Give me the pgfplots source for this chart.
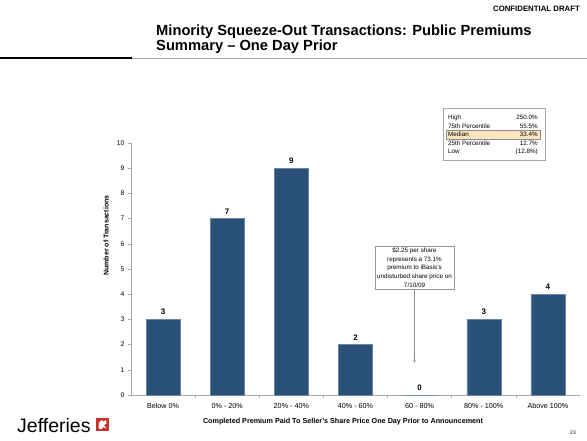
\documentclass[border=0pt]{standalone}
\usepackage{pgfplots}
\pgfplotsset{compat=1.18}
\usetikzlibrary{arrows.meta}
\usepackage{fontspec}
\setmainfont{Liberation Sans}
\definecolor{barblue}{HTML}{2A5279}
\definecolor{axisgray}{HTML}{A8A8A8}
\definecolor{medfill}{HTML}{FCE4BE}
\definecolor{jred}{HTML}{C8302C}
\begin{document}
\begin{tikzpicture}
\path[use as bounding box] (0pt,0pt) rectangle (587pt,440pt);
\fill[white] (0pt,0pt) rectangle (587pt,440pt);
% header
\node[anchor=base east, inner sep=0, font=\bfseries\fontsize{7.8}{9}\selectfont] at (580pt,428pt) {CONFIDENTIAL DRAFT};
\node[anchor=base west, inner sep=0, font=\bfseries\fontsize{14.7}{16}\selectfont] at (156pt,404.5pt) {Minority Squeeze-Out Transactions: Public Premiums};
\node[anchor=base west, inner sep=0, font=\bfseries\fontsize{14.7}{16}\selectfont] at (156pt,389.5pt) {Summary – One Day Prior};
\draw[line width=2pt, black] (0pt,381.7pt) -- (132pt,381.7pt);
\draw[line width=0.6pt, black!35] (132pt,381.7pt) -- (587pt,381.7pt);
% stats box
\draw[black!35, line width=0.5pt] (443pt,280pt) rectangle (545pt,332pt);
\fill[medfill] (446pt,301pt) rectangle (540pt,310pt);
\draw[black!45, line width=0.4pt] (446pt,301pt) rectangle (540pt,310pt);
\begin{scope}[every node/.style={inner sep=0, font=\fontsize{6.3}{7}\selectfont}]
\node[anchor=base west] at (448pt,320.5pt) {High};
\node[anchor=base east] at (538pt,320.5pt) {250.0\%};
\node[anchor=base west] at (448pt,311.9pt) {75th Percentile};
\node[anchor=base east] at (538pt,311.9pt) {55.5\%};
\node[anchor=base west] at (448pt,303.3pt) {Median};
\node[anchor=base east] at (538pt,303.3pt) {33.4\%};
\node[anchor=base west] at (448pt,294.7pt) {25th Percentile};
\node[anchor=base east] at (538pt,294.7pt) {12.7\%};
\node[anchor=base west] at (448pt,286.1pt) {Low};
\node[anchor=base east] at (538pt,286.1pt) {(12.8\%)};
\end{scope}
% axis
\begin{axis}[
  at={(131pt,45pt)}, anchor=south west,
  scale only axis, width=449pt, height=252pt,
  xmin=-0.5, xmax=6.5, ymin=0, ymax=10,
  axis x line*=bottom, axis y line*=left,
  axis line style={axisgray, line width=0.6pt},
  tick style={axisgray, line width=0.5pt},
  tick align=outside,
  major tick length=3pt, minor tick length=3pt,
  ytick={0,1,...,10},
  xtick={0,1,...,6},
  major x tick style={draw=none},
  minor xtick={0.5,1.5,...,5.5},
  xticklabels={Below 0\%, 0\% - 20\%, 20\% - 40\%, 40\% - 60\%, 60 - 80\%, 80\% - 100\%, Above 100\%},
  yticklabel style={font=\fontsize{6.8}{7}\selectfont},
  xticklabel style={font=\fontsize{7.2}{8}\selectfont, yshift=-2pt},
  /pgf/number format/assume math mode=true,
  clip=false,
]
\addplot[ybar, bar width=34pt, fill=barblue, draw=barblue!70!white, line width=0.4pt,
  nodes near coords, every node near coord/.append style={font=\bfseries\fontsize{8}{9}\selectfont, black, yshift=1pt}]
  coordinates {(0,3) (1,7) (2,9) (3,2) (4,0) (5,3) (6,4)};
% annotation
\node[draw=black!40, fill=white, align=center, inner sep=2pt, line width=0.5pt,
  font=\fontsize{6.3}{8.6}\selectfont, anchor=north] (ann) at (axis cs:3.92,5.92)
  {\$2.25 per share\\represents a 73.1\%\\premium to iBasis's\\undisturbed share price on\\7/10/09};
\draw[black!45, line width=0.6pt, -{Latex[length=3pt,width=2.5pt]}] (ann.south) -- (ann.south |- {axis cs:3.92,1.27});
\end{axis}
% axis labels
\node[rotate=90, inner sep=0, font=\bfseries\fontsize{7}{8}\selectfont] at (106pt,204.5pt) {Number of Transactions};
\node[font=\bfseries\fontsize{7.2}{8}\selectfont] at (343pt,18pt) {Completed Premium Paid To Seller's Share Price One Day Prior to Announcement};
% logo
\node[anchor=base west, inner sep=0, font=\fontsize{19.5}{20}\selectfont] at (17pt,8pt) {Jefferies};
\fill[jred] (96pt,9pt) rectangle (109pt,22pt);
\fill[white] (98.5pt,11.5pt) -- (99pt,17.5pt) -- (101.5pt,20pt) -- (103.5pt,18.5pt) -- (106pt,20pt) -- (106.5pt,16.5pt) -- (104pt,15pt) -- (106.5pt,11.5pt) -- (103.5pt,13pt) -- (101.5pt,10.8pt) -- cycle;
\node[anchor=base east, inner sep=0, font=\fontsize{5}{6}\selectfont] at (576pt,6pt) {23};
\end{tikzpicture}
\end{document}
